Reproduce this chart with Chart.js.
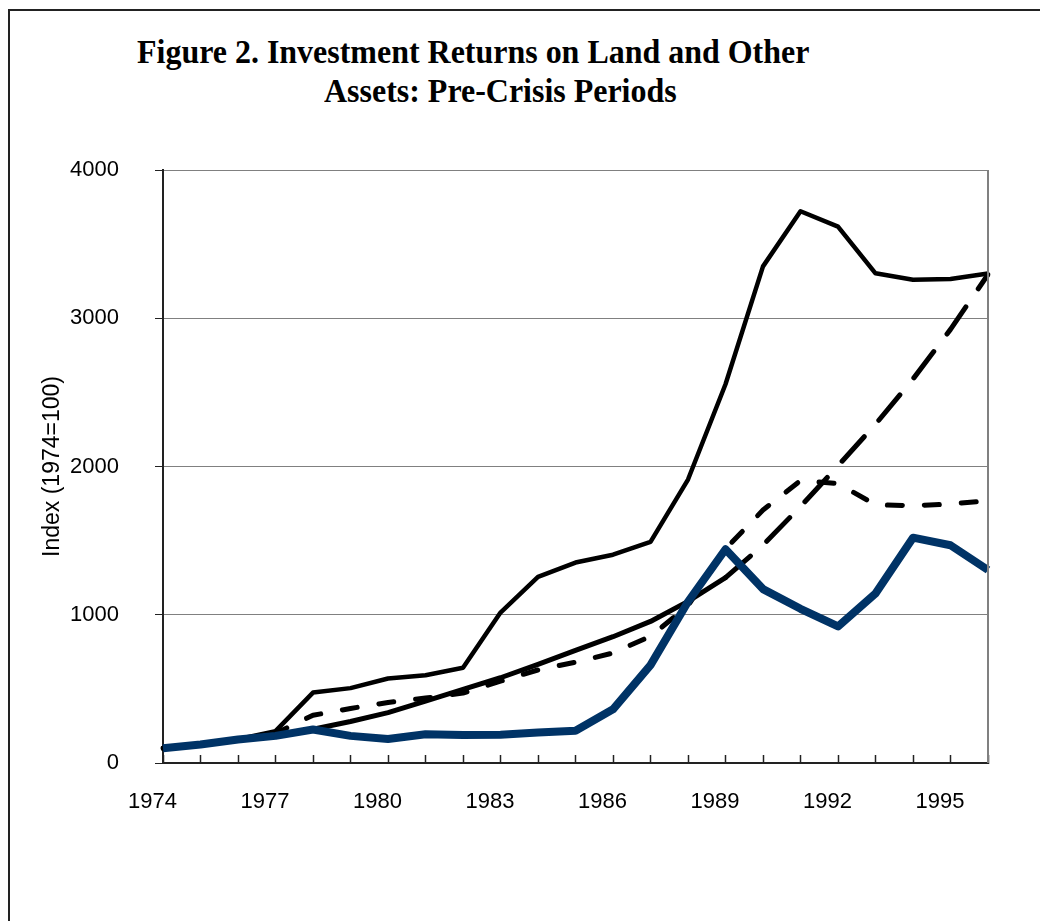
<!DOCTYPE html>
<html>
<head>
<meta charset="utf-8">
<script src="https://cdn.jsdelivr.net/npm/chart.js@4"></script>
<style>
  body { margin: 0; background: #fff; }
  #wrap { position: relative; width: 1040px; height: 921px; overflow: hidden; }
  #frame { position: absolute; left: 8px; top: 9px; width: 1100px; height: 1000px;
           border-left: 2px solid #222; border-top: 2px solid #222; }
  .ttl { position: absolute; font-family: "Liberation Serif", "Times New Roman", serif;
         font-weight: bold; font-size: 34px; line-height: 34px; color: #000; white-space: nowrap;
         transform: scaleX(0.94); transform-origin: left top; }
  #myChart { position: absolute; left: 0; top: 0; }
</style>
</head>
<body>
<div id="wrap">
  <div id="frame"></div>
  <div class="ttl" style="left:137px; top:35px;">Figure 2. Investment Returns on Land and Other</div>
  <div class="ttl" style="left:324px; top:74px;">Assets: Pre-Crisis Periods</div>
  <canvas id="myChart" width="1040" height="921"></canvas>
</div>
<script>
// years on the x axis (a label every 3 years is shown)
const years = ['1974','1975','1976','1977','1978','1979','1980','1981','1982','1983','1984',
  '1985','1986','1987','1988','1989','1990','1991','1992','1993','1994','1995','1996'];

// y axis ticks
const yTicks = [0, 1000, 2000, 3000, 4000];

// thick blue line
const blueLine = [100, 125, 158, 183, 226, 183, 162, 194, 189, 190, 205, 218, 362, 660, 1088,
  1442, 1173, 1040, 921, 1143, 1520, 1469, 1302];
// thin solid black line (top)
const solidLine = [100, 125, 160, 215, 475, 505, 570, 592, 642, 1015, 1255, 1352, 1405, 1492,
  1912, 2555, 3350, 3722, 3618, 3303, 3260, 3265, 3302];
// long dash line (solid part until 1989)
const longDashLine = [100, 125, 158, 185, 228, 280, 340, 418, 497, 575, 665, 760, 852, 955,
  1090, 1250, 1470, 1730, 2005, 2285, 2590, 2925, 3295];
// short dash line
const shortDashLine = [100, 125, 158, 200, 322, 368, 408, 438, 472, 552, 628, 680, 742, 855,
  1060, 1445, 1706, 1905, 1885, 1742, 1735, 1747, 1770];

const dashStart = years.indexOf('1989');

// gray border on the right of the plot
const rightEdge = {
  id: 'rightEdge',
  afterDraw(chart) {
    const a = chart.chartArea, c = chart.ctx;
    c.save();
    c.strokeStyle = '#808080';
    c.lineWidth = 2;
    c.beginPath();
    c.moveTo(a.right, a.top);
    c.lineTo(a.right, a.bottom);
    c.stroke();
    c.restore();
  }
};

const ctx = document.getElementById('myChart').getContext('2d');
const myChart = new Chart(ctx, {
  type: 'line',
  data: {
    labels: years,
    datasets: [
      {
        label: 'Blue',
        data: blueLine,
        borderColor: '#003366',
        borderWidth: 8
      },
      {
        label: 'Solid',
        data: solidLine,
        borderColor: '#000',
        borderWidth: 4.5
      },
      {
        label: 'Short dash',
        data: shortDashLine,
        borderColor: '#000',
        borderWidth: 5,
        borderDash: [15, 22],
        borderCapStyle: 'round'
      },
      {
        label: 'Long dash',
        data: longDashLine,
        borderColor: '#000',
        borderWidth: 5,
        borderCapStyle: 'round',
        segment: {
          borderDash: c => c.p0DataIndex >= dashStart ? [33, 22] : undefined
        }
      }
    ]
  },
  options: {
    responsive: false,
    devicePixelRatio: 1,
    animation: false,
    layout: { padding: { left: 0, top: 170, right: 52, bottom: 0 } },
    elements: {
      point: { radius: 0 },
      line: { tension: 0, borderJoinStyle: 'round', fill: false }
    },
    plugins: {
      legend: { display: false },
      tooltip: { enabled: false }
    },
    scales: {
      x: {
        offset: false,
        grid: { drawOnChartArea: false, drawTicks: true, tickLength: -8, tickColor: '#222', tickWidth: 1.5 },
        border: { color: '#222', width: 2 },
        ticks: {
          autoSkip: false,
          maxRotation: 0,
          padding: 34,
          labelOffset: -10.5,
          color: '#000',
          font: { family: 'Liberation Sans, Arial, sans-serif', size: 22 },
          callback: function(v, i) { return (i % 3 === 0) ? years[i] : ''; }
        },
        afterFit: s => { s.height = 158; }
      },
      y: {
        min: 0,
        max: 4000,
        afterBuildTicks: s => { s.ticks = yTicks.map(v => ({ value: v })); },
        grid: { color: '#808080', lineWidth: 1, tickLength: 8, tickColor: '#222' },
        border: { color: '#222', width: 2 },
        ticks: {
          padding: 36,
          color: '#000',
          font: { family: 'Liberation Sans, Arial, sans-serif', size: 22 },
          callback: v => String(v)
        },
        title: {
          display: true,
          text: 'Index (1974=100)',
          color: '#000',
          padding: { top: 39, bottom: 0 },
          font: { family: 'Liberation Sans, Arial, sans-serif', size: 23 }
        },
        afterFit: s => { s.width = 163; }
      }
    }
  },
  plugins: [rightEdge]
});
</script>
</body>
</html>
